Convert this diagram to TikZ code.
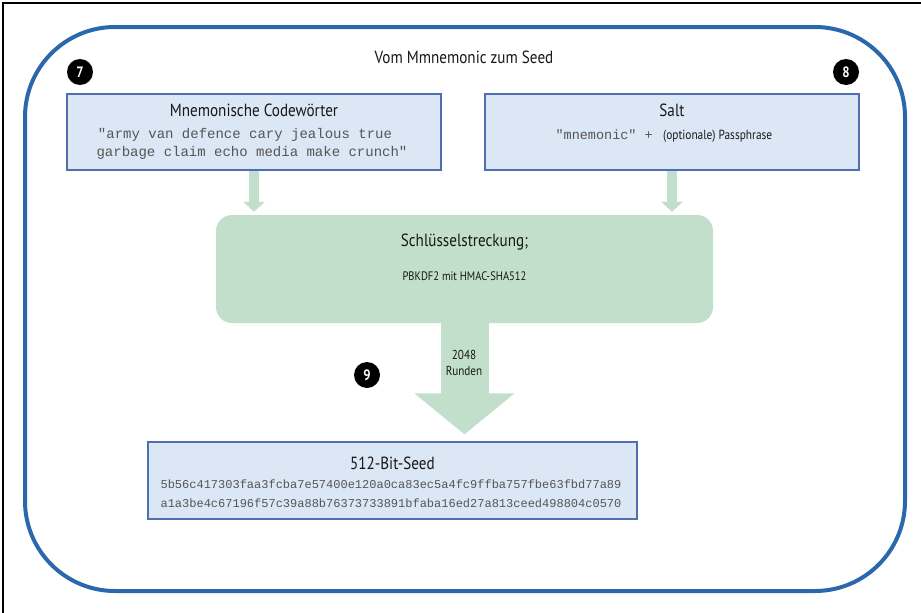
\documentclass[tikz,border=0pt]{standalone}
\usepackage{fontspec}
\setmainfont{PT Sans}[FakeStretch=0.86]
\setmonofont{Liberation Mono}
\usetikzlibrary{arrows.meta,calc}
\definecolor{outerblue}{HTML}{2B67AD}
\definecolor{boxfill}{HTML}{DBE7F5}
\definecolor{boxline}{HTML}{4F6FAE}
\definecolor{greenfill}{HTML}{C2DFCB}
\definecolor{txt}{HTML}{1A1718}
\definecolor{mono}{HTML}{555555}
\tikzset{
  bluebox/.style={draw=boxline, line width=1.3pt, fill=boxfill, inner sep=0pt},
  greenbox/.style={fill=greenfill, rounded corners=16pt, inner sep=0pt},
  titletxt/.style={font=\fontsize{17.6}{20}\selectfont, text=txt, inner sep=0pt},
  smalltxt/.style={font=\fontsize{12.3}{14}\selectfont, text=txt, inner sep=0pt},
  monotxt/.style={font=\ttfamily\fontsize{14}{16}\selectfont, text=mono, inner sep=0pt},
  hextxt/.style={font=\ttfamily\fontsize{12}{14}\selectfont, text=mono, inner sep=0pt},
  badge/.style={circle, fill=black, text=white, minimum size=26pt, inner sep=0pt, font=\bfseries\fontsize{15}{16}\selectfont},
  smallarrow/.style={draw=greenfill, line width=10pt, -{Triangle[width=21pt,length=10pt]}, shorten >=3pt},
  bigarrow/.style={draw=greenfill, line width=48pt, -{Triangle[width=98pt,length=41pt]}, shorten >=7pt},
}
\begin{document}
\begin{tikzpicture}[x=1pt,y=-1pt]
\useasboundingbox (0,0) rectangle (921,613);
\draw[black, line width=1.2pt] (3,613) -- (3,3) -- (921,3);
\draw[outerblue, line width=4pt, rounded corners=90pt] (25,27) rectangle (905,591);
\node[titletxt] (title) at (464,57) {Vom Mmnemonic zum Seed};
\node[badge] (b7) at (80,72) {7};
\node[badge] (b8) at (846,72) {8};
\node[badge] (b9) at (367,375) {9};
% mnemonic box
\node[bluebox, minimum width=374pt, minimum height=76pt] (mn) at (254,132) {};
\node[titletxt] (mnt) at (254,110) {Mnemonische Codewörter};
\node[monotxt] (mn1) at (245,135) {"army van defence cary jealous true};
\node[monotxt] (mn2) at (252,153) {garbage claim echo media make crunch"};
% salt box
\node[bluebox, minimum width=374pt, minimum height=76pt] (salt) at (672,132) {};
\node[titletxt] (saltt) at (672,110) {Salt};
\node[smalltxt, font=\fontsize{13.2}{15}\selectfont, anchor=base west] (pp) at (663,139) {(optionale) Passphrase};
\node[monotxt, font=\ttfamily\fontsize{13.5}{15}\selectfont, anchor=base east] (mnem) at (653,139) {"mnemonic" +};
% green box
\node[greenbox, minimum width=497pt, minimum height=108pt] (gr) at (464.5,269) {};
\node[titletxt] (grt) at (464.5,242) {Schlüsselstreckung;};
\node[smalltxt] (grs) at (464.5,276) {PBKDF2 mit HMAC-SHA512};
% seed box
\node[bluebox, minimum width=489pt, minimum height=77pt] (sd) at (392.5,480.5) {};
\node[titletxt] (sdt) at (392.5,463) {512-Bit-Seed};
\node[hextxt] (h1) at (391,484) {5b56c417303faa3fcba7e57400e120a0ca83ec5a4fc9ffba757fbe63fbd77a89};
\node[hextxt] (h2) at (391,503) {a1a3be4c67196f57c39a88b76373733891bfaba16ed27a813ceed498804c0570};
% arrows
\draw[smallarrow] (mn.south) -- (mn.south |- gr.north);
\draw[smallarrow] (salt.south) -- (salt.south |- gr.north);
\draw[bigarrow] (gr.south) -- (gr.south |- sd.north);
\node[smalltxt, font=\fontsize{13}{16}\selectfont, align=center] (rounds) at (464,363) {2048\\Runden};
\end{tikzpicture}
\end{document}
